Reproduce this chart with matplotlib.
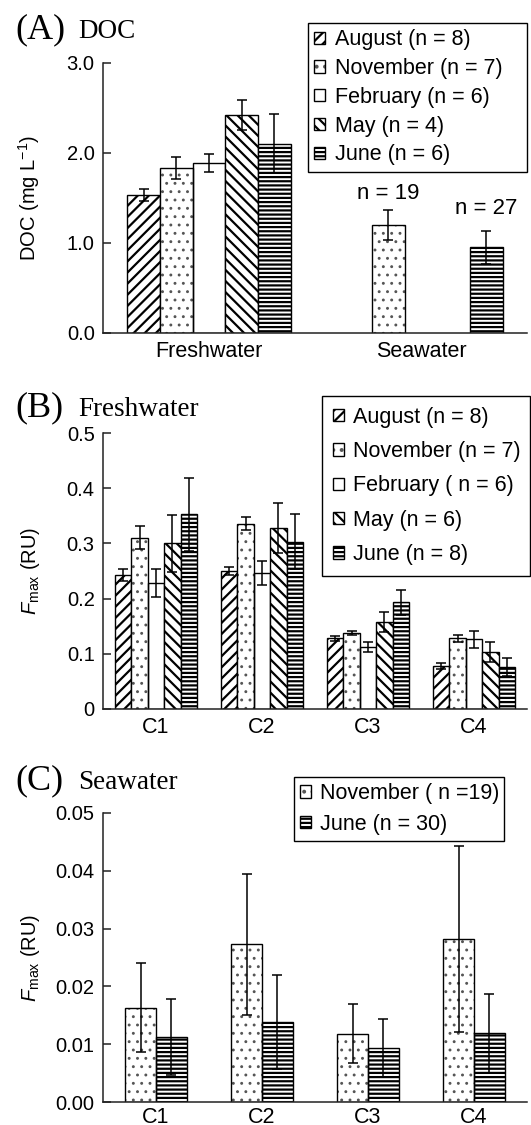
import numpy as np
import matplotlib
matplotlib.use("Agg")
import matplotlib.pyplot as plt

plt.rcParams['font.family'] = ['Liberation Sans', 'DejaVu Sans']
plt.rcParams['mathtext.fontset'] = 'custom'
plt.rcParams['mathtext.rm'] = 'Liberation Sans'
plt.rcParams['mathtext.it'] = 'Liberation Sans:italic'
plt.rcParams['hatch.linewidth'] = 1.6
plt.rcParams['hatch.color'] = 'black'

# ---------------- data ----------------
months = ['August', 'November', 'February', 'May', 'June']
month_hatch = ['///', '..', '', '\\\\\\', '----']

# (A) DOC, mg L-1
doc_sites = ['Freshwater', 'Seawater']
doc_aug = [1.53, np.nan]
doc_nov = [1.83, 1.20]
doc_feb = [1.89, np.nan]
doc_may = [2.42, np.nan]
doc_jun = [2.10, 0.95]
doc_aug_sd = [0.07, np.nan]
doc_nov_sd = [0.125, 0.165]
doc_feb_sd = [0.10, np.nan]
doc_may_sd = [0.17, np.nan]
doc_jun_sd = [0.33, 0.185]
doc_sea_n = ['n = 19', 'n = 27']
doc_legend = ['August (n = 8)', 'November (n = 7)', 'February (n = 6)',
              'May (n = 4)', 'June (n = 6)']

# (B) Freshwater Fmax, RU
components = ['C1', 'C2', 'C3', 'C4']
fw_aug = [0.243, 0.250, 0.128, 0.078]
fw_nov = [0.310, 0.336, 0.138, 0.128]
fw_feb = [0.228, 0.246, 0.112, 0.126]
fw_may = [0.300, 0.328, 0.157, 0.103]
fw_jun = [0.353, 0.303, 0.193, 0.076]
fw_aug_sd = [0.011, 0.008, 0.004, 0.006]
fw_nov_sd = [0.021, 0.012, 0.004, 0.006]
fw_feb_sd = [0.025, 0.022, 0.009, 0.016]
fw_may_sd = [0.051, 0.046, 0.018, 0.018]
fw_jun_sd = [0.066, 0.050, 0.022, 0.016]
fw_legend = ['August (n = 8)', 'November (n = 7)', 'February ( n = 6)',
             'May (n = 6)', 'June (n = 8)']

# (C) Seawater Fmax, RU
sw_nov = [0.0163, 0.0273, 0.0118, 0.0282]
sw_jun = [0.0112, 0.0138, 0.0093, 0.0119]
sw_nov_sd = [0.0077, 0.0122, 0.0051, 0.0161]
sw_jun_sd = [0.0066, 0.0081, 0.0050, 0.0068]
sw_legend = ['November ( n =19)', 'June (n = 30)']

# ---------------- figure ----------------
W, H = 531, 1125
fig = plt.figure(figsize=(W / 100, H / 100), dpi=100)

DOT_COLOR = '#555555'


def px_axes(left, right, top, bottom):
    return fig.add_axes([left / W, 1 - bottom / H, (right - left) / W, (bottom - top) / H])


def style_axes(ax, yticks, yticklabels, ylim, xpad=6):
    for s in ('top', 'right'):
        ax.spines[s].set_visible(False)
    for s in ('left', 'bottom'):
        ax.spines[s].set_linewidth(1.1)
        ax.spines[s].set_color('#222222')
    ax.set_ylim(*ylim)
    ax.set_yticks(yticks)
    ax.set_yticklabels(yticklabels)
    ax.tick_params(axis='y', direction='in', length=6, width=1.1, pad=6,
                   labelsize=14.5, color='#222222')
    ax.tick_params(axis='x', length=0, pad=xpad, labelsize=15.5)


def draw_bars(ax, centers, values, errors, width, hatches):
    handles = []
    n = len(values)
    for i, (vals, errs, hatch) in enumerate(zip(values, errors, hatches)):
        x = np.asarray(centers, dtype=float) + (i - (n - 1) / 2) * width
        vals = np.asarray(vals, dtype=float)
        errs = np.asarray(errs, dtype=float)
        ok = ~np.isnan(vals)
        if '.' in hatch:
            # fine grey stipple, then a black outline on top
            fill = ax.bar(x[ok], vals[ok], width=width, color='white',
                          edgecolor=DOT_COLOR, linewidth=0, hatch=hatch, zorder=2)
            for p in fill:
                if hasattr(p, 'set_hatch_linewidth'):
                    p.set_hatch_linewidth(0.9)
            edge = ax.bar(x[ok], vals[ok], width=width, fill=False,
                          edgecolor='black', linewidth=1.0, zorder=2.1)
            handles.append((fill, edge))
        else:
            b = ax.bar(x[ok], vals[ok], width=width, color='white', edgecolor='black',
                       linewidth=1.0, hatch=hatch, zorder=2)
            handles.append(b)
        ax.errorbar(x[ok], vals[ok], yerr=errs[ok], fmt='none', ecolor='black',
                    elinewidth=1.1, capsize=3.3, capthick=1.1, zorder=3)
    return handles


def add_legend(ax, handles, labels, left, top, right, spacing, pad):
    box = (left / W, 1 - top / H, (right - left) / W, 0)
    leg = ax.legend(handles, labels, loc='upper left', bbox_to_anchor=box,
                    bbox_transform=fig.transFigure, borderaxespad=0, mode='expand',
                    frameon=True, fancybox=False, framealpha=1, edgecolor='black',
                    fontsize=15.5, handlelength=0.5, handleheight=0.5,
                    handletextpad=0.45, labelspacing=spacing, borderpad=pad)
    leg.get_frame().set_linewidth(1.0)
    return leg


def panel_title(y_px, letter, name):
    fig.text(15 / W, 1 - y_px / H, letter, family='Liberation Serif', size=26, va='baseline')
    fig.text(78 / W, 1 - y_px / H, name, family='Liberation Serif', size=19.5, va='baseline')


# ----- (A) DOC -----
axA = px_axes(103, 527, 62.7, 332.7)
sites_x = np.arange(len(doc_sites))
hA = draw_bars(axA, sites_x,
               [doc_aug, doc_nov, doc_feb, doc_may, doc_jun],
               [doc_aug_sd, doc_nov_sd, doc_feb_sd, doc_may_sd, doc_jun_sd],
               0.154, month_hatch)
axA.set_xlim(-0.5, 1.5)
axA.set_xticks(sites_x)
axA.set_xticklabels(doc_sites)
style_axes(axA, [0, 1, 2, 3], ['0.0', '1.0', '2.0', '3.0'], (0, 3.0))
axA.set_ylabel('DOC (mg L$^{-1}$)', fontsize=14.5)
axA.yaxis.set_label_coords(-0.145, 0.5)
# sample sizes above the seawater bars
for j, (vals, sds, off) in enumerate([(doc_nov, doc_nov_sd, 4.0), (doc_jun, doc_jun_sd, 8.0)]):
    slot = 1 if j == 0 else 4
    xs = 1 + (slot - 2) * 0.154
    axA.annotate(doc_sea_n[j], xy=(xs, vals[1] + sds[1]), xytext=(0, off),
                 textcoords='offset points', ha='center', va='bottom', fontsize=16)
add_legend(axA, hA, doc_legend, 308, 23, 527, 0.36, 0.3)
panel_title(38, '(A)', 'DOC')

# ----- (B) Freshwater -----
axB = px_axes(103, 527, 433, 709)
comp_x = np.arange(len(components))
hB = draw_bars(axB, comp_x,
               [fw_aug, fw_nov, fw_feb, fw_may, fw_jun],
               [fw_aug_sd, fw_nov_sd, fw_feb_sd, fw_may_sd, fw_jun_sd],
               0.155, month_hatch)
axB.set_xlim(-0.5, 3.5)
axB.set_xticks(comp_x)
axB.set_xticklabels(components)
style_axes(axB, [0, 0.1, 0.2, 0.3, 0.4, 0.5], ['0', '0.1', '0.2', '0.3', '0.4', '0.5'], (0, 0.5))
axB.set_ylabel(r'$\mathit{F}_{\mathrm{max}}$ (RU)', fontsize=14.5)
axB.yaxis.set_label_coords(-0.145, 0.5)
add_legend(axB, hB, fw_legend, 322, 396, 530, 0.62, 0.5)
panel_title(416, '(B)', 'Freshwater')

# ----- (C) Seawater -----
axC = px_axes(103, 527, 813, 1102)
hC = draw_bars(axC, comp_x, [sw_nov, sw_jun], [sw_nov_sd, sw_jun_sd], 0.29,
               [month_hatch[1], month_hatch[4]])
axC.set_xlim(-0.5, 3.5)
axC.set_xticks(comp_x)
axC.set_xticklabels(components)
style_axes(axC, [0, 0.01, 0.02, 0.03, 0.04, 0.05],
           ['0.00', '0.01', '0.02', '0.03', '0.04', '0.05'], (0, 0.05), xpad=3.5)
axC.set_ylabel(r'$\mathit{F}_{\mathrm{max}}$ (RU)', fontsize=14.5)
axC.yaxis.set_label_coords(-0.145, 0.5)
add_legend(axC, hC, sw_legend, 294, 777, 504, 0.45, 0.28)
panel_title(789, '(C)', 'Seawater')

fig.savefig('out.png', dpi=100)
